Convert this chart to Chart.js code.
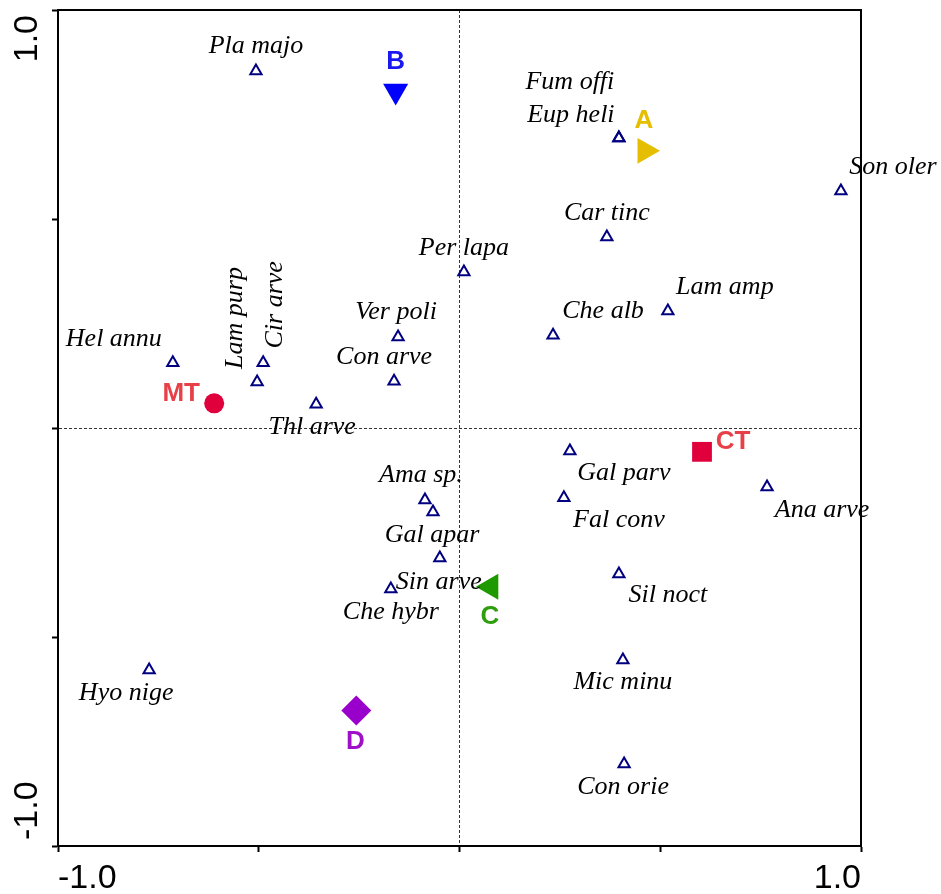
<!DOCTYPE html>
<html>
<head>
<meta charset="utf-8">
<title>CCA biplot</title>
<script src="https://cdn.jsdelivr.net/npm/chart.js@4.4.1/dist/chart.umd.min.js"></script>
<style>
  html, body { margin: 0; padding: 0; background: #fff; }
  canvas { display: block; }
</style>
</head>
<body>
<canvas id="bieuDoCCA" width="941" height="894"></canvas>
<script>
// Species scores on axis 1 and axis 2
const speciesNames = ['Pla majo', 'Fum offi', 'Eup heli', 'Car tinc', 'Per lapa', 'Son oler', 'Lam amp',
    'Che alb', 'Ver poli', 'Con arve', 'Hel annu', 'Cir arve', 'Lam purp', 'Thl arve', 'Ama sp.',
    'Gal apar', 'Sin arve', 'Che hybr', 'Gal parv', 'Fal conv', 'Sil noct', 'Ana arve', 'Mic minu',
    'Con orie', 'Hyo nige'];
const speciesAxis1 = [-0.507, 0.397, 0.397, 0.367, 0.011, 0.950, 0.519, 0.233, -0.153, -0.163, -0.714,
    -0.489, -0.504, -0.357, -0.086, -0.066, -0.049, -0.171, 0.275, 0.260, 0.397, 0.766, 0.407, 0.410, -0.773];
const speciesAxis2 = [0.854, 0.694, 0.694, 0.457, 0.373, 0.567, 0.280, 0.222, 0.218, 0.112, 0.156,
    0.156, 0.110, 0.057, -0.172, -0.201, -0.311, -0.385, -0.055, -0.167, -0.349, -0.141, -0.555, -0.804, -0.579];

// Group centroids
const groupNames = ['A', 'B', 'C', 'D', 'MT', 'CT'];
const groupAxis1 = [0.462, -0.159, 0.078, -0.257, -0.611, 0.604];
const groupAxis2 = [0.663, 0.806, -0.380, -0.676, 0.059, -0.057];

// Axis ticks, only the ends get a label
const axisTicks = [-1, -0.5, 0, 0.5, 1];
const axisTickLabels = ['-1.0', '', '', '', '1.0'];

// Label placement (pixels from the marker), third value = vertical text
const speciesLabelOffsets = [[0, -25], [-49, -56], [-48, -23], [0, -24], [0, -24], [52, -24], [57, -24],
    [50, -24], [-2, -25], [-10, -24], [-59, -24], [12, -58, true], [-22, -64, true], [-4, 23], [-4, -25],
    [-1, 23], [-1, 24], [0, 23], [54, 22], [55, 22], [49, 21], [55, 23], [0, 22], [-1, 23], [-23, 23]];
const groupLabelOffsets = [[-1, -30], [0, -29], [-1, 30], [-1, 31], [-33, -10], [31, -10]];

// Marker look for each group
const groupShapes = ['triangle', 'triangle', 'triangle', 'rectRot', 'circle', 'rect'];
const groupRotation = [90, 180, 270, 0, 0, 0];
const groupRadius = [15, 14.5, 15, 15, 10, 14];
const groupColors = ['#E6BE00', '#0000FF', '#1E9900', '#9900CC', '#E0003C', '#E0003C'];
const groupTextColors = ['#E6BE00', '#1A1AF0', '#2E9E0E', '#A010C8', '#E84048', '#E84048'];

const nhanPlugin = {
    id: 'nhanDiem',
    afterDatasetsDraw(chart) {
        const ctx = chart.ctx;
        const loai = chart.getDatasetMeta(0).data;
        const nhom = chart.getDatasetMeta(1).data;
        ctx.save();
        ctx.textAlign = 'center';
        ctx.textBaseline = 'middle';

        ctx.fillStyle = '#000';
        ctx.font = 'italic 26px "Liberation Serif"';
        loai.forEach((pt, i) => {
            const [dx, dy, doc] = speciesLabelOffsets[i];
            ctx.save();
            ctx.translate(pt.x + dx, pt.y + dy);
            if (doc) ctx.rotate(-Math.PI / 2);
            ctx.fillText(speciesNames[i], 0, 0);
            ctx.restore();
        });

        ctx.font = 'bold 26px "Liberation Sans"';
        nhom.forEach((pt, i) => {
            const [dx, dy] = groupLabelOffsets[i];
            ctx.fillStyle = groupTextColors[i];
            ctx.fillText(groupNames[i], pt.x + dx, pt.y + dy);
        });
        ctx.restore();
    },
    afterDraw(chart) {
        const ctx = chart.ctx;
        const a = chart.chartArea;
        const yScale = chart.scales.y;
        ctx.save();
        // closed frame around the plot
        ctx.lineWidth = 2;
        ctx.strokeStyle = '#000';
        ctx.strokeRect(a.left, a.top, a.right - a.left, a.bottom - a.top);

        // rotated labels for the vertical axis
        ctx.fillStyle = '#000';
        ctx.font = '34px "Liberation Sans"';
        ctx.textBaseline = 'middle';
        axisTicks.forEach((v, i) => {
            if (!axisTickLabels[i]) return;
            const py = yScale.getPixelForValue(v);
            ctx.save();
            ctx.translate(27.5, v > 0 ? py + 5 : py - 6);
            ctx.rotate(-Math.PI / 2);
            ctx.textAlign = v > 0 ? 'right' : 'left';
            ctx.fillText(axisTickLabels[i], 0, 0);
            ctx.restore();
        });
        ctx.restore();
    }
};

function gridAtZero(c) {
    return c.tick && c.tick.value === 0 ? '#333' : 'rgba(0,0,0,0)';
}

const ctx = document.getElementById('bieuDoCCA').getContext('2d');

new Chart(ctx, {
    type: 'scatter',
    data: {
        datasets: [{
            data: speciesAxis1.map((x, i) => ({ x: x, y: speciesAxis2[i] })),
            pointStyle: 'triangle',
            radius: 6.5,
            borderWidth: 2,
            borderColor: '#000080',
            backgroundColor: 'rgba(0,0,0,0)'
        }, {
            data: groupAxis1.map((x, i) => ({ x: x, y: groupAxis2[i] })),
            pointStyle: groupShapes,
            rotation: groupRotation,
            radius: groupRadius,
            borderWidth: 0,
            backgroundColor: groupColors,
            borderColor: groupColors
        }]
    },
    options: {
        responsive: false,
        animation: false,
        devicePixelRatio: 1,
        layout: { autoPadding: false, padding: { left: 0, top: 10, right: 80, bottom: 0 } },
        plugins: {
            legend: { display: false },
            tooltip: { enabled: false }
        },
        scales: {
            x: {
                min: -1,
                max: 1,
                afterBuildTicks: s => { s.ticks = axisTicks.map(v => ({ value: v })); },
                afterFit: s => { s.height = 48; },
                grid: { color: gridAtZero, lineWidth: 1, tickColor: '#000', tickWidth: 2, tickLength: 6 },
                border: { display: true, color: '#000', width: 2, dash: [3, 2] },
                ticks: {
                    align: 'inner',
                    maxRotation: 0,
                    autoSkip: false,
                    padding: 6,
                    color: '#000',
                    font: { family: '"Liberation Sans"', size: 34 },
                    callback: (v, i) => axisTickLabels[i]
                }
            },
            y: {
                min: -1,
                max: 1,
                afterBuildTicks: s => { s.ticks = axisTicks.map(v => ({ value: v })); },
                afterFit: s => { s.width = 58; },
                grid: { color: gridAtZero, lineWidth: 1, tickColor: '#000', tickWidth: 2, tickLength: 6 },
                border: { display: true, color: '#000', width: 2, dash: [3, 2] },
                ticks: { display: false }
            }
        }
    },
    plugins: [nhanPlugin]
});
</script>
</body>
</html>
